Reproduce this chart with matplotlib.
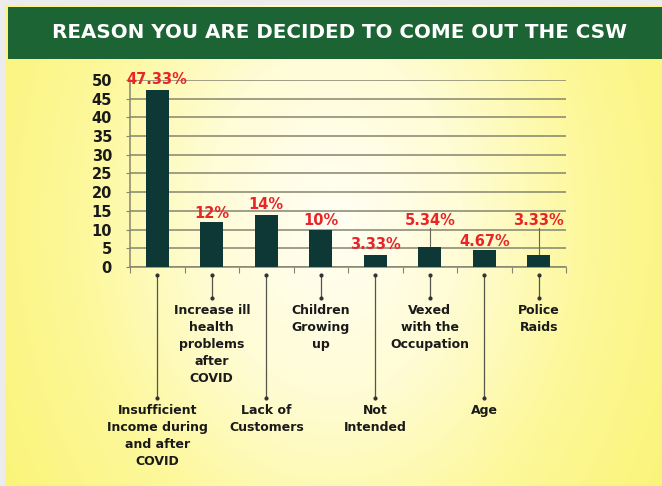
import numpy as np
import matplotlib.pyplot as plt
from matplotlib.patches import Rectangle
from matplotlib.colors import LinearSegmentedColormap

# Data
categories = [
    "Insufficient\nIncome during\nand after\nCOVID",
    "Increase ill\nhealth\nproblems\nafter\nCOVID",
    "Lack of\nCustomers",
    "Children\nGrowing\nup",
    "Not\nIntended",
    "Vexed\nwith the\nOccupation",
    "Age",
    "Police\nRaids",
]
values = [47.33, 12, 14, 10, 3.33, 5.34, 4.67, 3.33]
value_labels = ["47.33%", "12%", "14%", "10%", "3.33%", "5.34%", "4.67%", "3.33%"]

# label heights (data units) and which ones get a leader line
label_y = [50, 14.4, 16.8, 12.3, 5.9, 12.3, 6.7, 12.3]
label_leader = [False, False, False, False, False, True, False, True]

FONT = "DejaVu Sans"
W, H = 662, 486
fig = plt.figure(figsize=(W / 100, H / 100), dpi=100)
fig.patch.set_facecolor("#ececec")

# background gradient
bg = fig.add_axes([5 / W, 0, 1 - 5 / W, 1 - 5 / H])
bg.set_axis_off()
xx, yy = np.meshgrid(np.linspace(0, 1, 300), np.linspace(0, 1, 220))
d = np.sqrt(((xx - 0.5) / 0.6) ** 2 + ((yy - 0.45) / 1.1) ** 2)
cmap = LinearSegmentedColormap.from_list("bgy", ["#fffff4", "#fffcd6", "#fdf89a", "#fbf47a"])
bg.imshow(np.clip(d, 0, 1), cmap=cmap, aspect="auto", extent=[0, 1, 0, 1], origin="upper")
bg.set_xlim(0, 1)
bg.set_ylim(0, 1)

# header band
fig.patches.append(Rectangle((8 / W, 1 - 59 / H), 1, 52 / H, transform=fig.transFigure,
                             facecolor="#1c6434", edgecolor="none", zorder=1))
fig.text(339 / W, 1 - 33 / H, "REASON YOU ARE DECIDED TO COME OUT THE CSW",
         color="white", fontsize=14.3, fontweight="bold", family=FONT,
         ha="center", va="center")

ax = fig.add_axes([130 / W, 1 - 267 / H, 436 / W, 187 / H])
ax.set_facecolor("none")
x = np.arange(len(values))
ax.bar(x, values, width=0.42, color="#0d3836", zorder=3)
ax.set_xlim(-0.5, len(values) - 0.5)
ax.set_ylim(0, 50)
ax.set_yticks(np.arange(0, 51, 5))
ax.yaxis.grid(True, color="#85856f", linewidth=1.1, zorder=1)
ax.set_axisbelow(True)
for s in ["top", "right"]:
    ax.spines[s].set_visible(False)
for s in ["left", "bottom"]:
    ax.spines[s].set_color("#85856f")
    ax.spines[s].set_linewidth(1.1)
ax.set_xticks(np.arange(-0.5, len(values), 1))
ax.set_xticklabels([])
ax.tick_params(axis="x", length=4, color="#85856f", direction="out")
ax.tick_params(axis="y", length=3, color="#85856f", pad=10)
for t in ax.get_yticklabels():
    t.set_fontweight("bold")
    t.set_fontsize(10.5)
    t.set_family(FONT)
    t.set_color("#1a1a1a")

# value labels
for i, (v, lab, ly, lead) in enumerate(zip(values, value_labels, label_y, label_leader)):
    ax.text(i, ly, lab, color="#e8262a", fontsize=10.5, fontweight="bold",
            family=FONT, ha="center", va="center", zorder=5, clip_on=False)
    if lead:
        ax.plot([i, i], [v, ly - 1.8], color="#666655", linewidth=0.8, zorder=2)

# category labels with leader lines (alternate short/long)
trans = ax.get_xaxis_transform()
for i, cat in enumerate(categories):
    end_px = 398 if i % 2 == 0 else 298
    y0 = -8 / 187
    y1 = -(end_px - 267) / 187
    ax.plot([i, i], [y0, y1], color="#55554a", linewidth=0.9, transform=trans, clip_on=False)
    ax.plot([i, i], [y0, y1], linestyle="none", marker="o", markersize=2,
            color="#333333", transform=trans, clip_on=False)
    ax.text(i, y1 - 6 / 187, cat, transform=trans, ha="center", va="top",
            fontsize=9, fontweight="bold", family=FONT, color="#1a1a1a",
            linespacing=1.4)

fig.savefig("out.png", dpi=100)
